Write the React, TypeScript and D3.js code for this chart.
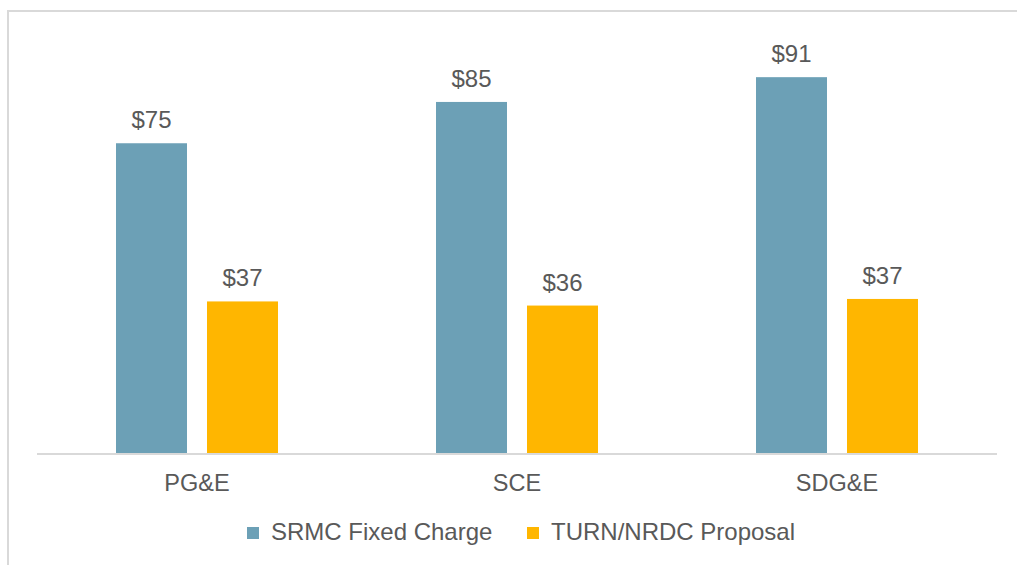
import React, { useEffect, useRef } from 'react';
import * as d3 from 'd3';

const categories = ['PG&E', 'SCE', 'SDG&E'];
const seriesNames = ['SRMC Fixed Charge', 'TURN/NRDC Proposal'];
const srmcValues = [75, 85, 91];
const turnValues = [36.7, 35.7, 37.3];
const seriesColors = ['#6ca0b6', '#ffb600'];

const W = 1017;
const H = 565;

export default function App() {
  const svgRef = useRef<SVGSVGElement>(null);

  useEffect(() => {
    const svg = d3.select(svgRef.current);
    svg.selectAll('*').remove();

    const font = 'Liberation Sans, Arial, sans-serif';
    const textColor = '#595959';

    // outer frame (only top and left edges visible)
    svg.append('line')
      .attr('x1', 8).attr('x2', W).attr('y1', 11).attr('y2', 11)
      .attr('stroke', '#d9d9d9').attr('stroke-width', 2);
    svg.append('line')
      .attr('x1', 8).attr('x2', 8).attr('y1', 10).attr('y2', H)
      .attr('stroke', '#d9d9d9').attr('stroke-width', 2);

    const x0 = d3.scaleBand().domain(categories).range([37, 997]);
    const x1 = d3.scaleBand().domain(seriesNames).range([79, 241]).paddingInner(20 / 91);
    const y = d3.scaleLinear().domain([0, 100]).range([453, 40]);

    const rows = categories.map((c, i) => ({
      cat: c,
      vals: [srmcValues[i], turnValues[i]],
    }));

    const groups = svg.selectAll('.grp')
      .data(rows)
      .join('g')
      .attr('class', 'grp')
      .attr('transform', d => `translate(${x0(d.cat)},0)`);

    groups.selectAll('rect')
      .data(d => d.vals.map((v, j) => ({ v, s: seriesNames[j], j })))
      .join('rect')
      .attr('x', d => x1(d.s)!)
      .attr('width', x1.bandwidth())
      .attr('y', d => y(d.v))
      .attr('height', d => y(0) - y(d.v))
      .attr('fill', d => seriesColors[d.j]);

    groups.selectAll('text.lbl')
      .data(d => d.vals.map((v, j) => ({ v, s: seriesNames[j] })))
      .join('text')
      .attr('class', 'lbl')
      .attr('x', d => x1(d.s)! + x1.bandwidth() / 2)
      .attr('y', d => y(d.v) - 15)
      .attr('text-anchor', 'middle')
      .attr('font-family', font)
      .attr('font-size', 24)
      .attr('fill', textColor)
      .text(d => `$${Math.round(d.v)}`);

    // axis line
    svg.append('line')
      .attr('x1', 37).attr('x2', 997).attr('y1', y(0) + 1).attr('y2', y(0) + 1)
      .attr('stroke', '#d9d9d9').attr('stroke-width', 2);

    svg.selectAll('.cat')
      .data(categories)
      .join('text')
      .attr('class', 'cat')
      .attr('x', d => x0(d)! + x0.bandwidth() / 2)
      .attr('y', 491)
      .attr('text-anchor', 'middle')
      .attr('font-family', font)
      .attr('font-size', 23.5)
      .attr('fill', textColor)
      .text(d => d);

    // legend
    const legendX = [247, 527];
    const leg = svg.selectAll('.leg')
      .data(seriesNames)
      .join('g')
      .attr('class', 'leg')
      .attr('transform', (d, i) => `translate(${legendX[i]},527)`);
    leg.append('rect')
      .attr('width', 12).attr('height', 12)
      .attr('fill', (d, i) => seriesColors[i]);
    leg.append('text')
      .attr('x', 24).attr('y', 13)
      .attr('font-family', font)
      .attr('font-size', 24)
      .attr('fill', textColor)
      .text(d => d);
  }, []);

  return (
    <svg ref={svgRef} width={W} height={H} style={{ position: 'absolute', left: 0, top: 0 }}></svg>
  );
}
